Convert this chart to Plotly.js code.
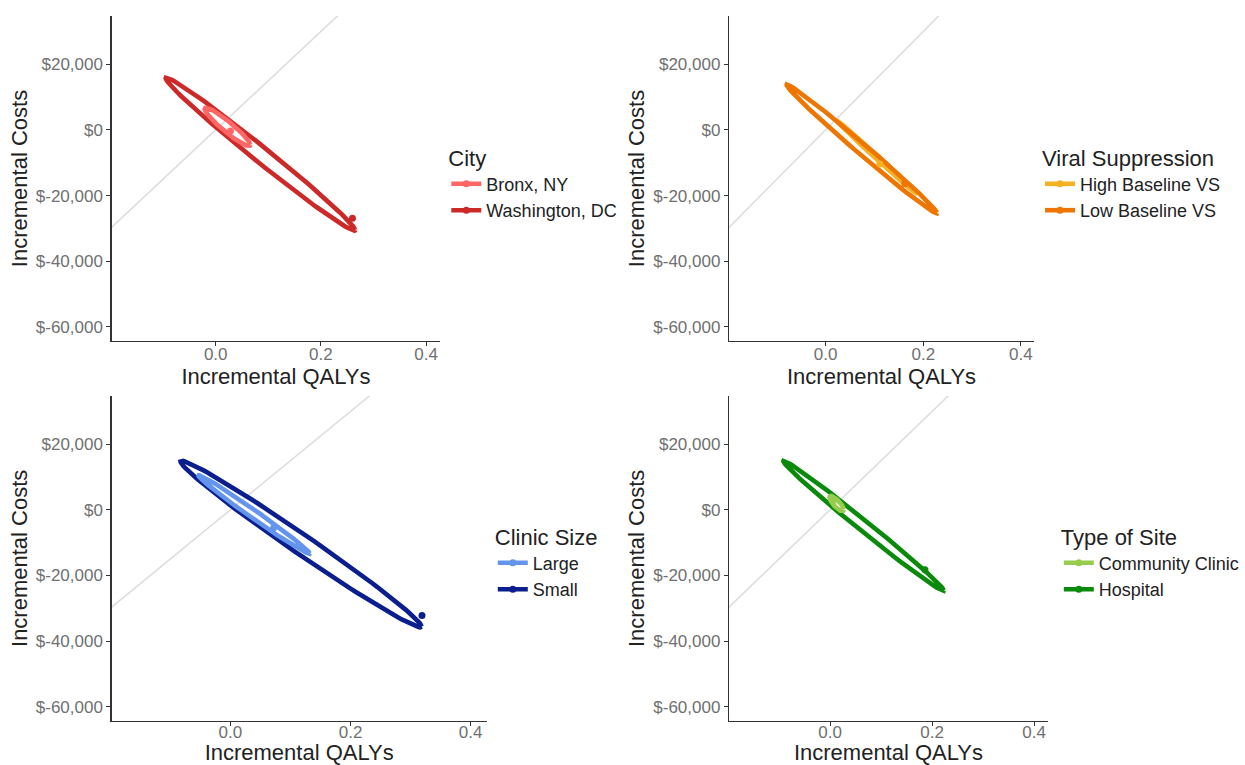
<!DOCTYPE html>
<html>
<head>
<meta charset="utf-8">
<script src="https://cdn.plot.ly/plotly-3.0.1.min.js"></script>
<style>html,body{margin:0;padding:0;background:#fff;}#chart{width:1245px;height:765px;}</style>
</head>
<body>
<div id="chart"></div>
<script>
// ---- data ----
const groupNames = ["Bronx, NY", "Washington, DC", "High Baseline VS", "Low Baseline VS", "Large", "Small", "Community Clinic", "Hospital"];
const groupPanel = [1, 1, 2, 2, 3, 3, 4, 4];
const legendTitles = ["City", "Viral Suppression", "Clinic Size", "Type of Site"];
// ellipse: two ends of the long axis (QALY, cost) and the vertical half-thickness (cost)
const tipStartQALY = [-0.021, -0.095, 0.022, -0.080, -0.053, -0.083, -0.001, -0.0915];
const tipStartCost = [6400, 15700, 2900, 13700, 10400, 14700, 3750, 14800];
const tipEndQALY = [0.0655, 0.265, 0.188, 0.228, 0.132, 0.3185, 0.0266, 0.223];
const tipEndCost = [-4570, -30500, -19600, -25300, -13300, -35600, 90, -24600];
const halfWidthCost = [2000, 3000, 700, 2100, 1500, 3600, 1400, 2100];
// point marks
const pointQALY = [0.028, 0.26, 0.111, 0.162, 0.072, 0.319, 0.006, 0.186];
const pointCost = [-300, -26900, -10400, -16400, -5500, -32200, 2800, -18300];
// willingness-to-pay reference line (cost per QALY)
const wtpPerQALY = 150000;
const wtpLineQALY = [-0.25, 0.3];
// ticks
const qalyTicks = [0, 0.2, 0.4];
const qalyTickText = ["0.0", "0.2", "0.4"];
const costTicks = [-60000, -40000, -20000, 0, 20000];
const costTickText = ["$-60,000", "$-40,000", "$-20,000", "$0", "$20,000"];

// ---- styles ----
const groupColors = ["#FF6666", "#CC2929", "#F4B124", "#EE7600", "#6495ED", "#0B1E8E", "#97CC4F", "#0A8A0A"];
const W = 1245, H = 765;
const xDomains = [[112.7, 445], [736.7, 1045], [112.7, 492], [736.7, 1059]];
const yDomains = [[16, 341], [16, 341], [396, 720.7], [396, 720.7]];
const xLabelShift = [-7, -7, -8, -8];
const legendPos = [[451, 137], [1051, 137], [498, 516], [1070, 516]];
const FONT = "Liberation Sans, Arial, sans-serif";

function ellipse(i) {
  const cx = (tipStartQALY[i] + tipEndQALY[i]) / 2, cy = (tipStartCost[i] + tipEndCost[i]) / 2;
  const ux = (tipEndQALY[i] - tipStartQALY[i]) / 2, uy = (tipEndCost[i] - tipStartCost[i]) / 2;
  const xs = [], ys = [];
  const n = 120;
  for (let k = 0; k <= n; k++) {
    const t = 2 * Math.PI * k / n;
    xs.push(cx + Math.cos(t) * ux);
    ys.push(cy + Math.cos(t) * uy + Math.sin(t) * halfWidthCost[i]);
  }
  return {x: xs, y: ys};
}

const traces = [];
for (let p = 1; p <= 4; p++) {
  const sfx = p === 1 ? "" : String(p);
  traces.push({
    type: "scatter", mode: "lines", x: wtpLineQALY, y: wtpLineQALY.map(q => q * wtpPerQALY),
    xaxis: "x" + sfx, yaxis: "y" + sfx, line: {color: "#DEDEDE", width: 1.6},
    showlegend: false, hoverinfo: "skip"
  });
}
// drawing order of the ellipses (which one lies on top)
const drawOrder = [1, 0, 2, 3, 5, 4, 7, 6];
for (const i of drawOrder) {
  const p = groupPanel[i];
  const sfx = p === 1 ? "" : String(p);
  const e = ellipse(i);
  traces.push({
    type: "scatter", mode: "lines", x: e.x, y: e.y, name: groupNames[i],
    xaxis: "x" + sfx, yaxis: "y" + sfx, legend: "legend" + sfx, legendgroup: groupNames[i],
    line: {color: groupColors[i], width: 4.6}, showlegend: false, hoverinfo: "skip"
  });
}
for (let i = 0; i < groupNames.length; i++) {
  const p = groupPanel[i];
  const sfx = p === 1 ? "" : String(p);
  traces.push({
    type: "scatter", mode: "lines+markers", x: [pointQALY[i]], y: [pointCost[i]], name: groupNames[i],
    xaxis: "x" + sfx, yaxis: "y" + sfx, legend: "legend" + sfx, legendgroup: groupNames[i],
    line: {color: groupColors[i], width: 4.6}, marker: {color: groupColors[i], size: 7},
    showlegend: true
  });
}

const layout = {
  width: W, height: H, margin: {l: 0, r: 0, t: 0, b: 0},
  paper_bgcolor: "#fff", plot_bgcolor: "#fff",
  font: {family: FONT, color: "#222"},
  showlegend: true
};
for (let p = 1; p <= 4; p++) {
  const sfx = p === 1 ? "" : String(p);
  const xd = xDomains[p - 1], yd = yDomains[p - 1];
  layout["xaxis" + sfx] = {
    domain: [xd[0] / W, xd[1] / W], anchor: "y" + sfx,
    range: [-0.198, 0.427], tickvals: qalyTicks, ticktext: qalyTickText,
    showgrid: false, zeroline: false, showline: true, linecolor: "#333", linewidth: 1.2,
    ticks: "outside", ticklen: 4, tickcolor: "#333", tickwidth: 1,
    ticklabelstandoff: xLabelShift[p - 1],
    tickfont: {size: 17, color: "#707070", family: FONT},
    title: {text: "Incremental QALYs", font: {size: 22, color: "#222", family: FONT}, standoff: 0}
  };
  layout["yaxis" + sfx] = {
    domain: [1 - yd[1] / H, 1 - yd[0] / H], anchor: "x" + sfx,
    range: [-64300, 34700], tickvals: costTicks, ticktext: costTickText,
    showgrid: false, zeroline: false, showline: true, linecolor: "#333", linewidth: 1.2,
    ticks: "outside", ticklen: 4, tickcolor: "#333", tickwidth: 1,
    tickfont: {size: 17, color: "#707070", family: FONT},
    title: {text: "Incremental Costs", font: {size: 22, color: "#222", family: FONT}, standoff: 2}
  };
  const lp = legendPos[p - 1];
  layout["legend" + sfx] = {
    x: lp[0] / W, xanchor: "left", y: 1 - lp[1] / H, yanchor: "top",
    bgcolor: "rgba(0,0,0,0)", borderwidth: 0, itemwidth: 30, tracegroupgap: 0,
    font: {size: 18, color: "#222", family: FONT},
    title: {text: legendTitles[p - 1], font: {size: 22, color: "#222", family: FONT}}
  };
}

Plotly.newPlot("chart", traces, layout, {displayModeBar: false, staticPlot: true});
</script>
</body>
</html>
